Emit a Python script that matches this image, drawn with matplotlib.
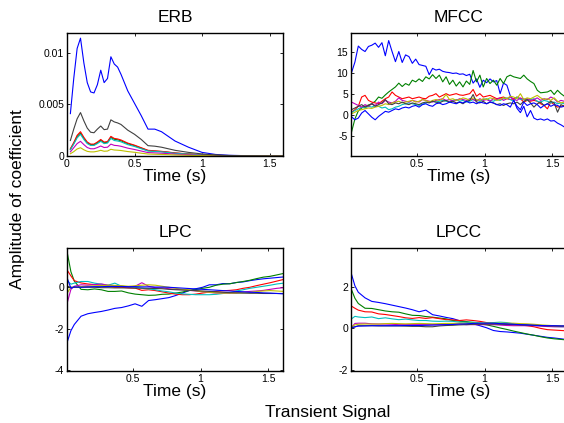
import numpy as np
import matplotlib
matplotlib.use("Agg")
import matplotlib.pyplot as plt

plt.rcParams['font.family'] = ['Liberation Sans', 'DejaVu Sans']
plt.rcParams['axes.unicode_minus'] = False

COLORS = [(0, 0, 1), (0, 0.5, 0), (1, 0, 0), (0, 0.75, 0.75),
          (0.75, 0, 0.75), (0.75, 0.75, 0), (0.25, 0.25, 0.25), (0, 0, 1)]

# ---------------- ERB (values x 1e-3) ----------------
erb_t = [0.025, 0.05, 0.075, 0.1, 0.125, 0.15, 0.175, 0.2, 0.225, 0.25, 0.275, 0.3,
         0.325, 0.35, 0.375, 0.4, 0.45, 0.5, 0.55, 0.6, 0.65, 0.7, 0.75, 0.8, 0.9,
         1.0, 1.1, 1.2, 1.3, 1.4, 1.5, 1.6]
erb_blue = [4.1, 7.5, 10.4, 11.4, 9.0, 7.1, 6.2, 6.1, 6.9, 8.3, 7.1, 7.5, 9.6, 8.9, 8.6, 7.9,
            6.3, 5.1, 3.9, 2.6, 2.6, 2.35, 1.9, 1.45, 0.85, 0.35, 0.15, 0.07, 0.04, 0.02, 0.01, 0.005]
erb_green = [0.65, 1.22, 1.9, 2.22, 1.7, 1.28, 1.1, 1.1, 1.28, 1.52, 1.28, 1.33, 1.8, 1.62, 1.57, 1.47,
             1.19, 1.0, 0.76, 0.52, 0.47, 0.43, 0.36, 0.28, 0.19, 0.11, 0.06, 0.03, 0.02, 0.01, 0.005, 0.003]
erb_red = [0.7, 1.3, 2.0, 2.35, 1.8, 1.35, 1.15, 1.15, 1.35, 1.6, 1.35, 1.4, 1.9, 1.7, 1.65, 1.55,
           1.25, 1.05, 0.8, 0.55, 0.5, 0.45, 0.38, 0.3, 0.2, 0.12, 0.06, 0.03, 0.02, 0.01, 0.005, 0.003]
erb_cyan = [0.6, 1.15, 1.75, 2.1, 1.6, 1.2, 1.02, 1.02, 1.2, 1.42, 1.2, 1.25, 1.7, 1.5, 1.45, 1.37,
            1.1, 0.92, 0.7, 0.48, 0.44, 0.4, 0.33, 0.26, 0.18, 0.1, 0.05, 0.03, 0.02, 0.01, 0.005, 0.003]
erb_magenta = [0.4, 0.8, 1.2, 1.42, 1.1, 0.82, 0.7, 0.7, 0.82, 0.97, 0.82, 0.85, 1.15, 1.03, 1.0, 0.94,
               0.76, 0.63, 0.48, 0.33, 0.3, 0.27, 0.23, 0.18, 0.12, 0.07, 0.04, 0.02, 0.01, 0.005, 0.003, 0.002]
erb_yellow = [0.22, 0.42, 0.68, 0.8, 0.6, 0.45, 0.4, 0.4, 0.46, 0.55, 0.46, 0.48, 0.65, 0.58, 0.56, 0.53,
              0.43, 0.36, 0.27, 0.19, 0.17, 0.15, 0.13, 0.1, 0.07, 0.04, 0.02, 0.01, 0.006, 0.003, 0.002, 0.001]
erb_gray = [1.5, 2.6, 3.6, 4.2, 3.4, 2.7, 2.3, 2.25, 2.6, 2.9, 2.55, 2.6, 3.5, 3.3, 3.2, 3.05,
            2.5, 2.1, 1.6, 1.0, 0.95, 0.85, 0.7, 0.55, 0.35, 0.2, 0.1, 0.05, 0.03, 0.02, 0.01, 0.005]

# ---------------- MFCC (frames every 0.025 s from 0.015 s) ----------------
mfcc_t = np.round(0.015 + 0.025 * np.arange(64), 4)
mfcc_blue = [10.0, 12.5, 16.3, 15.5, 15.0, 16.2, 16.5, 17.0, 16.0, 17.1, 14.0, 17.6, 15.0, 12.6, 15.0, 12.4,
             14.2, 13.8, 12.2, 13.2, 11.9, 11.7, 11.5, 9.5, 11.0, 10.6, 10.8, 10.3, 10.1, 10.0, 9.8, 9.9,
             9.6, 9.7, 9.3, 9.6, 7.5, 8.5, 6.5, 8.2, 7.6, 8.5, 7.8, 8.1, 5.0, 7.5, 7.0, 4.5,
             3.5, 1.5, 0.5, 2.0, -0.5, 1.0, -0.8, -1.2, -1.0, -1.3, -1.0, -1.5, -1.4, -2.0, -2.4, -2.9]
mfcc_green = [-4.1, -1.0, 0.9, 1.6, 2.0, 2.3, 2.6, 3.2, 4.2, 3.9, 4.7, 5.4, 6.0, 6.6, 7.5, 6.7,
              7.4, 7.0, 8.2, 7.8, 8.5, 7.9, 9.0, 8.5, 9.5, 8.6, 9.4, 7.8, 9.0, 7.2, 8.2, 6.8,
              7.8, 6.6, 8.0, 7.2, 10.5, 7.8, 9.4, 6.6, 8.6, 7.4, 8.2, 7.0, 8.6, 7.4, 9.0, 9.4,
              9.0, 8.8, 8.6, 9.4, 8.5, 7.9, 7.4, 5.8, 5.2, 5.3, 5.4, 5.8, 4.8, 5.8, 5.0, 4.4]
mfcc_red = [0.6, 1.2, 2.0, 4.2, 4.6, 3.4, 3.0, 2.8, 2.6, 3.2, 3.8, 4.2, 5.4, 4.6, 4.2, 3.8,
            4.0, 4.2, 3.8, 4.0, 4.2, 3.9, 3.8, 4.4, 4.6, 5.0, 4.2, 4.6, 5.0, 4.6, 4.8, 5.0,
            4.7, 4.6, 4.8, 5.0, 6.0, 4.4, 5.0, 4.2, 4.4, 4.6, 4.2, 3.8, 4.0, 4.2, 3.8, 3.6,
            3.8, 4.2, 3.8, 3.0, 3.4, 3.2, 3.4, 3.2, 2.6, 2.2, 1.4, 3.0, 2.4, 1.8, 2.0, 2.2]
mfcc_cyan = [0.5, 1.0, 1.4, 1.8, 1.6, 2.0, 1.8, 2.2, 2.0, 1.6, 1.8, 1.2, 1.4, 1.8, 2.0, 2.4,
             2.6, 2.8, 2.6, 2.4, 2.2, 2.5, 2.8, 3.0, 3.2, 3.0, 3.2, 3.4, 3.2, 3.0, 3.4, 3.6,
             3.2, 3.4, 3.0, 3.2, 3.6, 3.4, 3.2, 3.6, 3.8, 3.4, 3.2, 3.6, 3.4, 3.8, 4.0, 3.6,
             3.2, 4.2, 3.6, 3.8, 3.4, 3.6, 3.8, 3.2, 3.0, 3.4, 3.2, 2.8, 3.0, 2.6, 2.8, 2.6]
mfcc_magenta = [3.0, 2.6, 2.2, 1.8, 2.4, 2.0, 2.6, 2.2, 3.0, 2.6, 3.4, 3.0, 2.8, 3.2, 4.0, 3.4,
                3.2, 3.0, 3.4, 3.2, 3.0, 3.6, 3.4, 3.2, 3.0, 3.4, 3.6, 3.8, 3.4, 3.6, 3.2, 3.4,
                3.8, 3.6, 3.4, 3.8, 3.6, 3.2, 3.8, 3.4, 3.6, 3.2, 3.8, 3.6, 4.0, 3.4, 3.8, 4.2,
                3.6, 3.4, 4.0, 3.6, 3.8, 3.4, 3.6, 4.0, 3.4, 3.8, 3.6, 4.2, 3.8, 3.0, 3.4, 3.2]
mfcc_yellow = [0.2, 0.6, 1.0, 1.2, 1.4, 1.6, 1.5, 1.8, 2.0, 2.2, 2.6, 2.4, 2.8, 3.0, 3.2, 2.8,
               3.0, 3.2, 3.4, 3.0, 3.2, 3.6, 3.4, 3.0, 3.4, 3.6, 3.4, 3.8, 4.8, 3.6, 3.8, 3.4,
               3.6, 4.0, 3.8, 3.4, 4.0, 3.6, 3.4, 3.8, 3.6, 4.0, 3.8, 3.4, 3.6, 4.0, 3.8, 4.4,
               4.2, 3.8, 5.0, 3.6, 4.0, 3.8, 4.2, 4.6, 4.0, 3.6, 3.8, 3.4, 4.0, 3.2, 2.8, 3.0]
mfcc_gray = [1.2, 1.6, 2.0, 2.4, 1.8, 2.2, 2.6, 2.0, 2.4, 2.8, 3.6, 2.6, 2.4, 2.8, 2.6, 3.0,
             2.6, 2.4, 2.8, 2.6, 2.4, 2.8, 3.0, 2.8, 3.2, 3.0, 2.8, 3.2, 3.4, 3.0, 3.2, 2.8,
             3.0, 2.6, 3.2, 3.4, 4.8, 3.0, 2.8, 3.2, 2.6, 3.0, 2.8, 2.4, 2.6, 2.2, 2.6, 2.8,
             2.6, 3.0, 2.4, 3.2, 3.6, 2.8, 1.8, 2.6, 3.0, 2.2, 2.6, 3.2, 2.8, 0.6, 2.4, 2.0]
mfcc_blue2 = [-0.5, -1.2, -0.8, 0.4, 1.0, 0.2, -0.6, -1.2, -0.4, 0.2, 0.8, 0.6, 1.0, 1.4, 1.2, 1.6,
              1.8, 1.6, 2.0, 2.2, 1.8, 2.4, 2.6, 2.2, 2.0, 2.6, 2.8, 2.4, 2.6, 3.0, 2.8, 2.6,
              3.0, 2.8, 3.2, 2.8, 3.0, 2.6, 3.0, 2.8, 2.6, 3.0, 2.8, 2.4, 2.2, 2.6, 2.4, 1.8,
              3.4, 2.0, 1.2, 3.0, 2.2, 2.6, 2.8, 2.4, 1.6, 2.2, 2.6, 2.0, 2.4, 2.2, 1.8, 2.0]

# ---------------- LPC / LPCC ----------------
lp_t = [0.015, 0.04, 0.065, 0.115, 0.165, 0.215, 0.265, 0.315, 0.365, 0.415, 0.465, 0.515,
        0.565, 0.615, 0.665, 0.715, 0.765, 0.815, 0.865, 0.915, 0.965, 1.015, 1.065, 1.115,
        1.165, 1.215, 1.265, 1.315, 1.365, 1.415, 1.465, 1.515, 1.565, 1.615]
lpc_blue = [-2.6, -2.1, -1.8, -1.40, -1.28, -1.22, -1.17, -1.1, -1.02, -0.98, -0.9, -0.8,
            -0.92, -0.64, -0.6, -0.55, -0.5, -0.4, -0.28, -0.16, -0.07, 0.0, 0.12, 0.12,
            0.18, 0.17, 0.23, 0.26, 0.32, 0.37, 0.41, 0.44, 0.47, 0.5]
lpc_green = [1.6, 0.75, 0.3, -0.1, -0.12, -0.08, -0.12, -0.2, -0.2, -0.18, -0.27, -0.33,
             -0.36, -0.39, -0.38, -0.34, -0.33, -0.28, -0.23, -0.16, -0.11, -0.05, 0.0, 0.1,
             0.15, 0.17, 0.23, 0.28, 0.34, 0.42, 0.49, 0.53, 0.6, 0.67]
lpc_red = [0.8, 0.55, 0.32, 0.21, 0.16, 0.13, 0.1, 0.05, 0.0, 0.0, -0.03, -0.04,
           -0.15, -0.12, -0.16, -0.22, -0.28, -0.33, -0.36, -0.36, -0.33, -0.28, -0.23, -0.2,
           -0.17, -0.15, -0.12, -0.05, 0.0, 0.08, 0.15, 0.22, 0.3, 0.38]
lpc_cyan = [0.3, 0.15, 0.2, 0.28, 0.28, 0.2, 0.15, 0.1, 0.2, 0.05, 0.02, 0.0,
            -0.05, -0.08, -0.12, -0.18, -0.22, -0.28, -0.32, -0.34, -0.36, -0.36, -0.36, -0.34,
            -0.3, -0.27, -0.18, -0.12, -0.05, 0.0, 0.05, 0.1, 0.16, 0.2]
lpc_magenta = [-0.7, -0.1, 0.05, 0.12, 0.1, 0.13, 0.16, 0.1, 0.08, 0.04, 0.0, 0.05,
               0.22, 0.05, -0.02, -0.03, -0.07, -0.1, -0.12, -0.15, -0.18, -0.22, -0.25, -0.28,
               -0.28, -0.28, -0.27, -0.23, -0.2, -0.18, -0.15, -0.1, -0.05, -0.02]
lpc_yellow = [-0.25, 0.0, 0.0, 0.03, 0.05, 0.07, 0.08, 0.1, 0.09, 0.08, 0.05, 0.07,
              0.1, 0.12, 0.1, 0.05, 0.0, -0.05, -0.1, -0.12, -0.17, -0.22, -0.24, -0.27,
              -0.28, -0.28, -0.28, -0.27, -0.25, -0.2, -0.18, -0.16, -0.18, -0.2]
lpc_gray = [0.05, 0.0, 0.0, 0.0, 0.0, 0.0, -0.02, -0.02, -0.03, -0.03, -0.03, -0.04,
            -0.04, -0.05, -0.06, -0.07, -0.1, -0.12, -0.13, -0.15, -0.16, -0.18, -0.2, -0.22,
            -0.24, -0.26, -0.27, -0.28, -0.29, -0.29, -0.3, -0.3, -0.3, -0.3]
lpc_blue2 = [0.4, -0.05, 0.02, 0.0, 0.02, 0.03, 0.03, 0.04, 0.04, 0.04, 0.03, 0.03,
             0.02, 0.02, 0.01, 0.01, 0.0, -0.02, -0.04, -0.06, -0.08, -0.1, -0.12, -0.14,
             -0.16, -0.18, -0.2, -0.22, -0.24, -0.25, -0.27, -0.28, -0.3, -0.32]

lpcc_blue = [2.6, 2.05, 1.74, 1.47, 1.3, 1.25, 1.19, 1.12, 1.05, 0.98, 0.9, 0.8,
             0.88, 0.66, 0.6, 0.53, 0.47, 0.37, 0.3, 0.22, 0.13, 0.03, -0.1, -0.15,
             -0.17, -0.2, -0.23, -0.28, -0.33, -0.38, -0.43, -0.46, -0.5, -0.54]
lpcc_green = [1.86, 1.45, 1.2, 0.97, 0.96, 0.9, 0.84, 0.8, 0.78, 0.7, 0.63, 0.62,
              0.57, 0.54, 0.5, 0.46, 0.38, 0.35, 0.33, 0.28, 0.22, 0.17, 0.1, 0.02,
              -0.05, -0.13, -0.2, -0.27, -0.33, -0.4, -0.46, -0.5, -0.53, -0.56]
lpcc_red = [1.07, 0.97, 0.88, 0.8, 0.79, 0.7, 0.67, 0.62, 0.57, 0.51, 0.48, 0.52,
            0.48, 0.52, 0.47, 0.42, 0.41, 0.38, 0.41, 0.38, 0.34, 0.28, 0.25, 0.22,
            0.2, 0.18, 0.16, 0.13, 0.08, 0.0, -0.06, -0.08, -0.1, -0.12]
lpcc_cyan = [0.46, 0.58, 0.55, 0.52, 0.55, 0.47, 0.51, 0.46, 0.42, 0.45, 0.41, 0.38,
             0.38, 0.35, 0.34, 0.35, 0.34, 0.3, 0.3, 0.3, 0.27, 0.26, 0.28, 0.3,
             0.28, 0.22, 0.18, 0.17, 0.14, 0.12, 0.1, 0.09, 0.08, 0.08]
lpcc_magenta = [0.05, 0.24, 0.25, 0.25, 0.22, 0.21, 0.21, 0.2, 0.18, 0.18, 0.18, 0.18,
                0.18, 0.18, 0.18, 0.18, 0.2, 0.21, 0.18, 0.18, 0.18, 0.18, 0.18, 0.16,
                0.14, 0.13, 0.13, 0.13, 0.13, 0.11, 0.09, 0.08, 0.08, 0.08]
lpcc_yellow = [0.08, 0.17, 0.2, 0.21, 0.21, 0.21, 0.23, 0.24, 0.23, 0.22, 0.23, 0.24,
               0.23, 0.22, 0.23, 0.24, 0.24, 0.25, 0.25, 0.25, 0.25, 0.25, 0.25, 0.25,
               0.25, 0.25, 0.23, 0.22, 0.2, 0.17, 0.15, 0.13, 0.12, 0.11]
lpcc_gray = [0.05, 0.07, 0.13, 0.13, 0.13, 0.12, 0.12, 0.12, 0.12, 0.11, 0.1, 0.1,
             0.08, 0.08, 0.12, 0.14, 0.15, 0.17, 0.18, 0.2, 0.2, 0.21, 0.21, 0.2,
             0.19, 0.18, 0.17, 0.16, 0.15, 0.14, 0.12, 0.12, 0.11, 0.11]
lpcc_blue2 = [0.02, 0.08, 0.11, 0.12, 0.13, 0.13, 0.13, 0.13, 0.13, 0.14, 0.14, 0.14,
              0.15, 0.16, 0.17, 0.18, 0.19, 0.21, 0.22, 0.24, 0.25, 0.25, 0.25, 0.23,
              0.22, 0.2, 0.18, 0.17, 0.15, 0.14, 0.13, 0.13, 0.12, 0.12]

TITLES = ["ERB", "MFCC", "LPC", "LPCC"]
X_LABEL = "Time (s)"
Y_LABEL = "Amplitude of coefficient"
SUP_X = "Transient Signal"

FS_TICK = 7.5
FS_LAB = 12.5

fig = plt.figure(figsize=(5.64, 4.23), dpi=100)
W = 216 / 564
H = 123 / 423
pos = {
    "ERB": [67 / 564, 1 - 156 / 423, W, H],
    "MFCC": [351 / 564, 1 - 156 / 423, W, H],
    "LPC": [67 / 564, 1 - 371 / 423, W, H],
    "LPCC": [351 / 564, 1 - 371 / 423, W, H],
}


def style(ax):
    ax.tick_params(direction='in', length=2.5, width=0.6, labelsize=FS_TICK,
                   top=True, right=True, pad=2)
    for s in ax.spines.values():
        s.set_linewidth(1.0)
    ax.set_xlabel(X_LABEL, fontsize=FS_LAB, labelpad=0)


def draw(ax, t, series):
    for i, v in enumerate(series):
        ax.plot(t[:len(v)], v, color=COLORS[i], lw=0.8, clip_on=True)


ax1 = fig.add_axes(pos["ERB"])
draw(ax1, np.array(erb_t),
     [np.array(s) * 1e-3 for s in [erb_blue, erb_green, erb_red, erb_cyan, erb_magenta, erb_yellow, erb_gray]])
ax1.set_xlim(0, 1.6)
ax1.set_ylim(0, 0.0119)
ax1.set_xticks([0, 0.5, 1, 1.5])
ax1.set_xticklabels(["0", "0.5", "1", "1.5"])
ax1.set_yticks([0, 0.005, 0.01])
ax1.set_yticklabels(["0", "0.005", "0.01"])
ax1.set_title(TITLES[0], fontsize=FS_LAB, pad=8)
style(ax1)

ax2 = fig.add_axes(pos["MFCC"])
draw(ax2, mfcc_t, [mfcc_blue, mfcc_green, mfcc_red, mfcc_cyan, mfcc_magenta, mfcc_yellow, mfcc_gray, mfcc_blue2])
ax2.set_xlim(0.011, 1.61)
ax2.set_ylim(-9.8, 19.4)
ax2.set_xticks([0.5, 1, 1.5])
ax2.set_xticklabels(["0.5", "1", "1.5"])
ax2.set_yticks([-5, 0, 5, 10, 15])
ax2.set_title(TITLES[1], fontsize=FS_LAB, pad=8)
style(ax2)

ax3 = fig.add_axes(pos["LPC"])
draw(ax3, np.array(lp_t), [lpc_blue, lpc_green, lpc_red, lpc_cyan, lpc_magenta, lpc_yellow, lpc_gray, lpc_blue2])
ax3.set_xlim(0.011, 1.61)
ax3.set_ylim(-4.05, 1.9)
ax3.set_xticks([0.5, 1, 1.5])
ax3.set_xticklabels(["0.5", "1", "1.5"])
ax3.set_yticks([-4, -2, 0])
ax3.set_title(TITLES[2], fontsize=FS_LAB, pad=8)
style(ax3)

ax4 = fig.add_axes(pos["LPCC"])
draw(ax4, np.array(lp_t), [lpcc_blue, lpcc_green, lpcc_red, lpcc_cyan, lpcc_magenta, lpcc_yellow, lpcc_gray, lpcc_blue2])
ax4.set_xlim(0.011, 1.61)
ax4.set_ylim(-2.05, 3.87)
ax4.set_xticks([0.5, 1, 1.5])
ax4.set_xticklabels(["0.5", "1", "1.5"])
ax4.set_yticks([-2, 0, 2])
ax4.set_title(TITLES[3], fontsize=FS_LAB, pad=8)
style(ax4)

fig.text(18 / 564, 1 - 199 / 423, Y_LABEL, rotation=90, ha='center', va='center', fontsize=FS_LAB)
fig.text(328 / 564, 1 - 412 / 423, SUP_X, ha='center', va='center', fontsize=FS_LAB)

fig.savefig("out.png", dpi=100)
